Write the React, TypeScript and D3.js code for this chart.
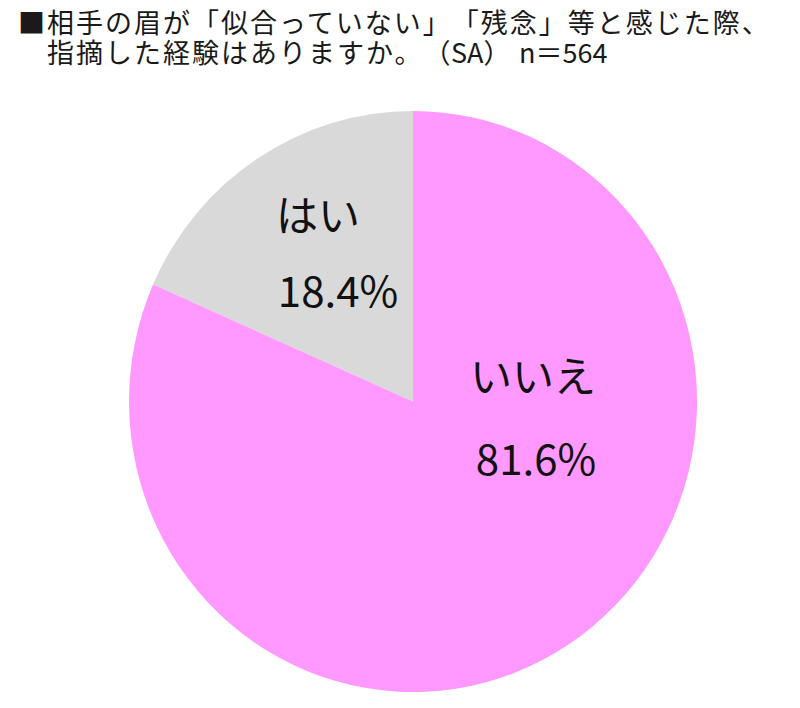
import React from "react";
import * as d3 from "d3";

const categories = ["はい", "いいえ"];
const values = [18.4, 81.6];
const valueLabels = ["18.4%", "81.6%"];
const colors = ["#D9D9D9", "#FF99FF"];
const titleLine1 = "■相手の眉が「似合っていない」「残念」等と感じた際、";
const titleLine2Parts = ["指摘した経験はありますか。（", "SA）", "n＝564"];

const W = 800;
const H = 708;
const cx = 413;
const cy = 401.5;
const r = 284;
const yScale = 290.5 / 284;

// label positions relative to pie centre (layout, not data)
const labelPos = [
  { name: [318, -171], value: [338, -94.5] },
  { name: [533, -10], value: [536, 73.5] },
];

export default function App() {
  const pie = d3
    .pie<number>()
    .sort(null)
    .startAngle(-(values[0] / 100) * 2 * Math.PI)
    .endAngle(2 * Math.PI - (values[0] / 100) * 2 * Math.PI);
  const arcs = pie(values);
  const arc = d3.arc<d3.PieArcDatum<number>>().innerRadius(0).outerRadius(r);
  const font = "'Noto Sans CJK JP', 'Noto Sans', sans-serif";
  const trim: any = { textSpacingTrim: "space-all" };

  return (
    <svg
      width={W}
      height={H}
      style={{ position: "absolute", left: 0, top: 0, background: "#fff" }}
    >
      <g fontFamily={font} fill="#1a1a1a" fontSize={27} style={trim}>
        <text x={18} y={33} letterSpacing={2}>
          {titleLine1}
        </text>
        <text y={63}>
          <tspan x={47} letterSpacing={2}>
            {titleLine2Parts[0]}
          </tspan>
          <tspan x={451}>{titleLine2Parts[1]}</tspan>
          <tspan x={519}>{titleLine2Parts[2]}</tspan>
        </text>
      </g>
      <g transform={`translate(${cx},${cy}) scale(1,${yScale})`}>
        {arcs.map((a, i) => (
          <path key={categories[i]} d={arc(a) || ""} fill={colors[i]} />
        ))}
      </g>
      <g fontFamily={font} fill="#111" fontSize={42} textAnchor="middle">
        {categories.map((c, i) => (
          <g key={c}>
            <text x={labelPos[i].name[0]} y={cy + labelPos[i].name[1]}>
              {c}
            </text>
            <text x={labelPos[i].value[0]} y={cy + labelPos[i].value[1]}>
              {valueLabels[i]}
            </text>
          </g>
        ))}
      </g>
    </svg>
  );
}
